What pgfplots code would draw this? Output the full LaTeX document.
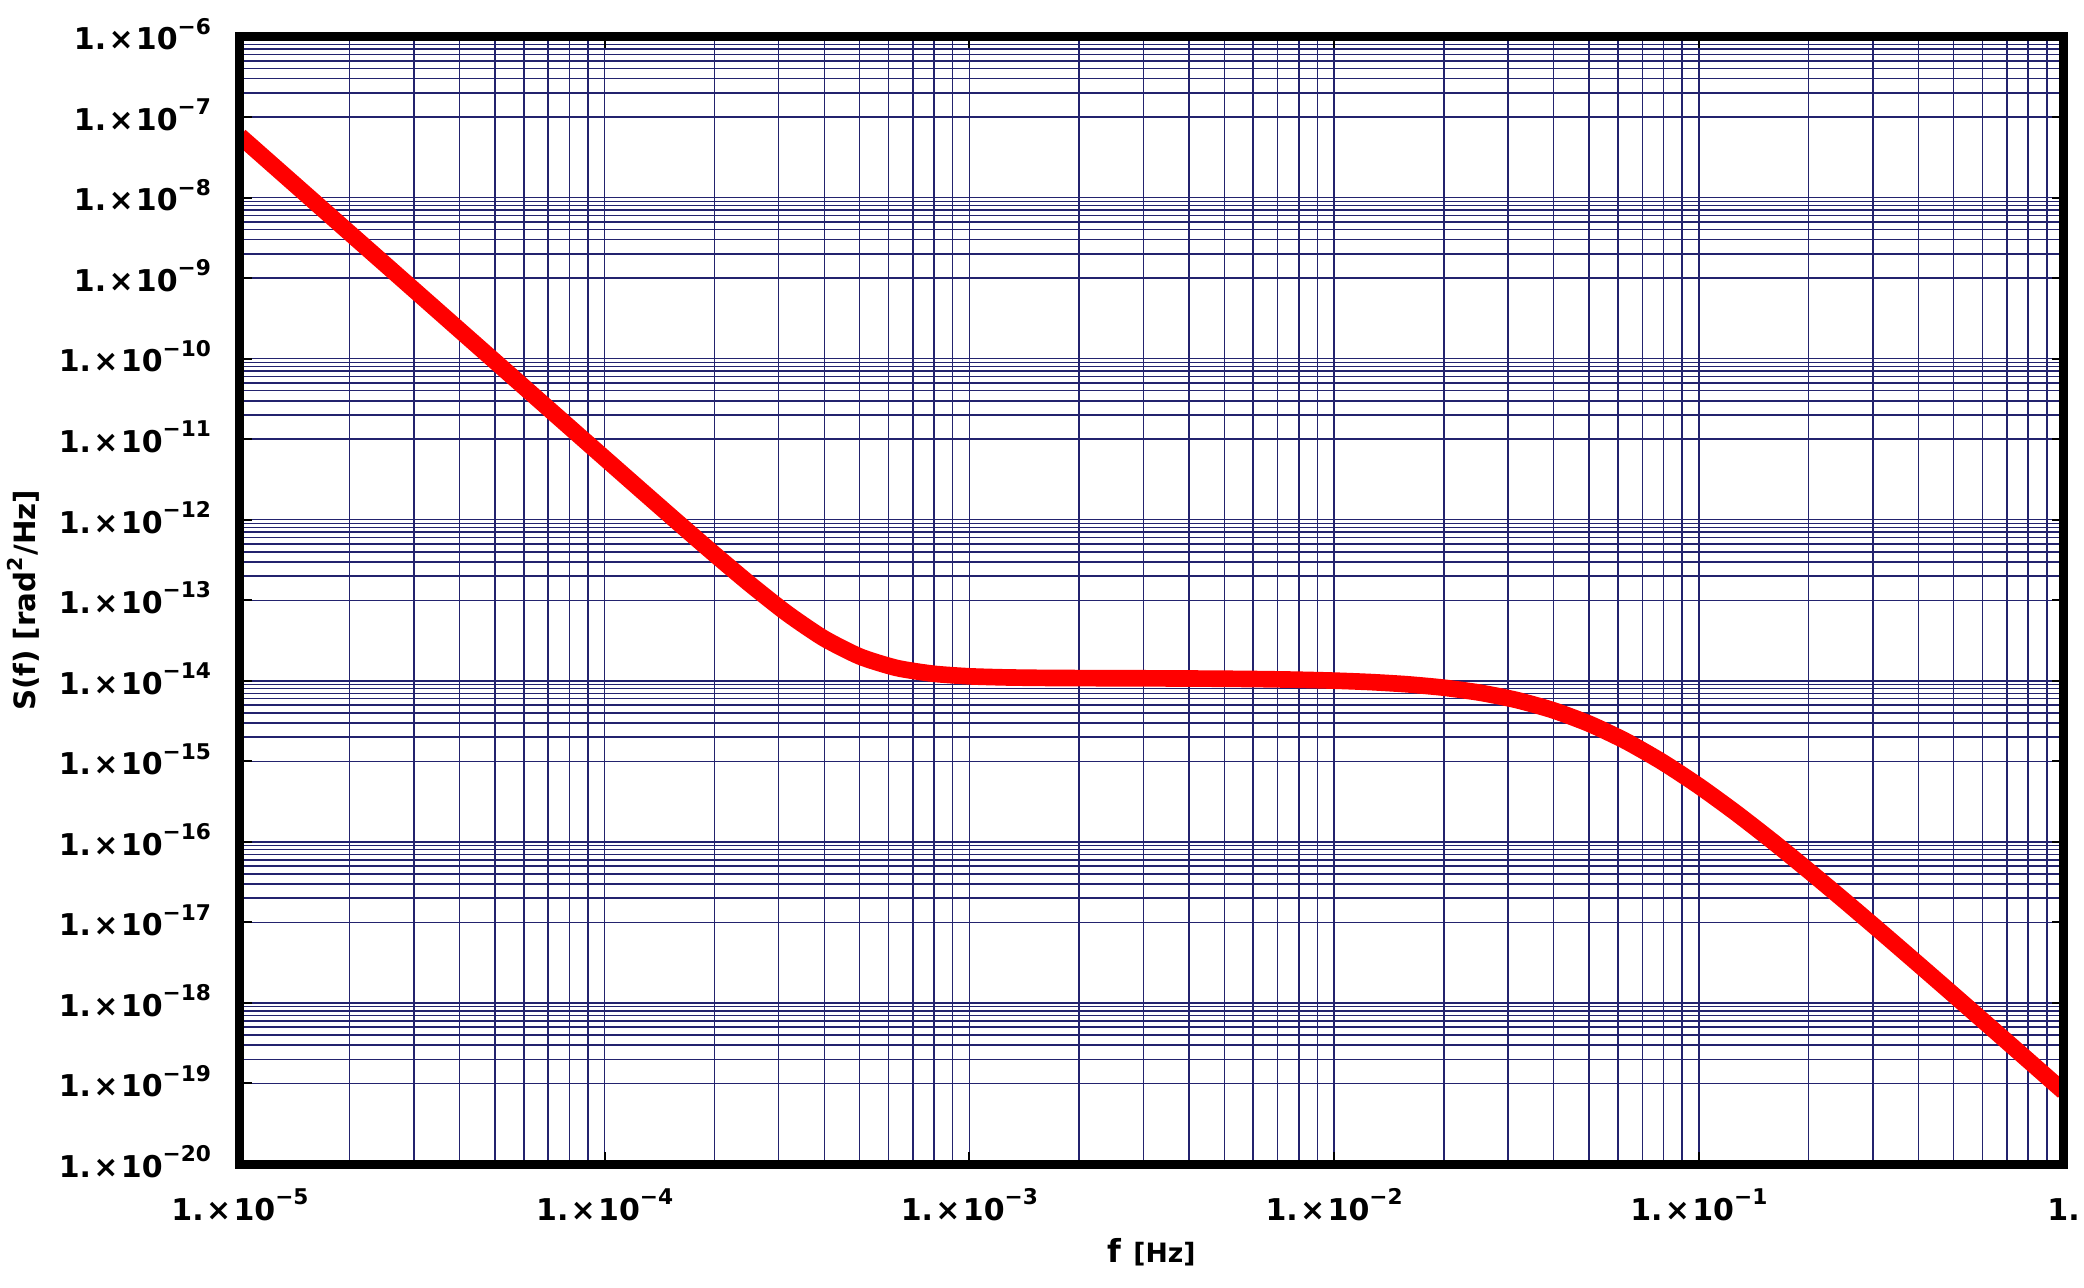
\documentclass[border=0pt]{standalone}
\usepackage{fontspec}
\setmainfont{DejaVu Sans}
\usepackage{pgfplots}
\pgfplotsset{compat=1.18}
\definecolor{gridnavy}{RGB}{35,35,110}
% tick label 1.x10^-n as in the reference
\newcommand{\tl}[1]{1.\kern0.7pt×\kern0.7pt10\raisebox{4.7pt}{\fontsize{6.5}{6.5}\selectfont −#1}}

\begin{document}
\begin{tikzpicture}
\begin{axis}[
  xmode=log, ymode=log,
  width=547.05pt, height=338.25pt, scale only axis,
  xmin=1e-5, xmax=1, ymin=1e-20, ymax=1e-6,
  xtick={1e-5,1e-4,1e-3,1e-2,1e-1,1},
  xticklabels={\tl{5},\tl{4},\tl{3},\tl{2},\tl{1},1.},
  ytick={1e-20,1e-19,1e-18,1e-17,1e-16,1e-15,1e-14,1e-13,1e-12,1e-11,1e-10,1e-9,1e-8,1e-7,1e-6},
  yticklabels={\tl{20},\tl{19},\tl{18},\tl{17},\tl{16},\tl{15},\tl{14},\tl{13},\tl{12},\tl{11},\tl{10},\tl{9},\tl{8},\tl{7},\tl{6}},
  minor xtick={2e-5,3e-5,4e-5,5e-5,6e-5,7e-5,8e-5,9e-5,
    2e-4,3e-4,4e-4,5e-4,6e-4,7e-4,8e-4,9e-4,
    2e-3,3e-3,4e-3,5e-3,6e-3,7e-3,8e-3,9e-3,
    2e-2,3e-2,4e-2,5e-2,6e-2,7e-2,8e-2,9e-2,
    2e-1,3e-1,4e-1,5e-1,6e-1,7e-1,8e-1,9e-1},
  % minor grid only in every other decade, as drawn in the reference
  minor ytick={2e-7,3e-7,4e-7,5e-7,6e-7,7e-7,8e-7,9e-7,
    2e-9,3e-9,4e-9,5e-9,6e-9,7e-9,8e-9,9e-9,
    2e-11,3e-11,4e-11,5e-11,6e-11,7e-11,8e-11,9e-11,
    2e-13,3e-13,4e-13,5e-13,6e-13,7e-13,8e-13,9e-13,
    2e-15,3e-15,4e-15,5e-15,6e-15,7e-15,8e-15,9e-15,
    2e-17,3e-17,4e-17,5e-17,6e-17,7e-17,8e-17,9e-17,
    2e-19,3e-19,4e-19,5e-19,6e-19,7e-19,8e-19,9e-19},
  xmajorgrids, ymajorgrids, xminorgrids, yminorgrids,
  major grid style={gridnavy, line width=0.45pt},
  minor grid style={gridnavy, line width=0.45pt},
  major tick length=3.5pt, minor tick length=0pt,
  tick style={black, line width=0.6pt},
  tick align=inside,
  axis line style={draw=none},
  clip mode=individual,
  ticklabel style={font=\fontsize{9}{10}\selectfont\bfseries},
  xticklabel style={anchor=base, inner sep=0pt, yshift=-16.8pt},
  yticklabel style={anchor=base east, inner sep=0pt, xshift=-8.5pt, yshift=-4pt},
]
\addplot[red, line width=5pt, line join=round, smooth, tension=0.4, no marks] coordinates {
  (1e-5,5.80e-8) (1.2589e-5,2.309e-8) (1.5849e-5,9.19e-9) (1.9953e-5,3.66e-9)
  (2.5119e-5,1.457e-9) (3.1623e-5,5.80e-10) (3.9811e-5,2.309e-10) (5.0119e-5,9.19e-11)
  (6.3096e-5,3.66e-11) (7.9433e-5,1.458e-11) (1e-4,5.81e-12) (1.2589e-4,2.320e-12)
  (1.5849e-4,9.30e-13) (1.9953e-4,3.77e-13) (2.5119e-4,1.565e-13) (3.1623e-4,6.88e-14)
  (3.9811e-4,3.39e-14) (5.0119e-4,2.00e-14) (6.3096e-4,1.446e-14) (7.9433e-4,1.226e-14)
  (1e-3,1.137e-14) (1.2589e-3,1.102e-14) (1.5849e-3,1.087e-14) (1.9953e-3,1.0805e-14)
  (2.5119e-3,1.0765e-14) (3.1623e-3,1.0727e-14) (3.9811e-3,1.0675e-14) (5.0119e-3,1.0604e-14)
  (6.3096e-3,1.0491e-14) (7.9433e-3,1.0317e-14) (1e-2,1.0049e-14) (1.2589e-2,9.645e-15)
  (1.5849e-2,9.054e-15) (1.9953e-2,8.222e-15) (2.5119e-2,7.121e-15) (3.1623e-2,5.779e-15)
  (3.9811e-2,4.317e-15) (5.0119e-2,2.924e-15) (6.3096e-2,1.783e-15) (7.9433e-2,9.824e-16)
  (1e-1,4.952e-16) (1.2589e-1,2.324e-16) (1.5849e-1,1.0343e-16) (1.9953e-1,4.432e-17)
  (2.5119e-1,1.851e-17) (3.1623e-1,7.599e-18) (3.9811e-1,3.085e-18) (5.0119e-1,1.2438e-18)
  (6.3096e-1,4.991e-19) (7.9433e-1,1.997e-19) (1,7.975e-20)
};
% heavy frame on top of the curve
\draw[black, line width=2.7pt] (rel axis cs:0,0) rectangle (rel axis cs:1,1);
% axis labels
\node[rotate=90, anchor=base, font=\fontsize{8.8}{10}\selectfont\bfseries]
  at (axis description cs:-0.1124,0.5) {S(f) [rad\textsuperscript{2}/Hz]};
\node[anchor=base, font=\bfseries]
  at (axis description cs:0.5,-0.0869) {{\fontsize{9.5}{10}\selectfont f} {\fontsize{8}{9}\selectfont [Hz]}};
\end{axis}
\pgfresetboundingbox
\path[use as bounding box] (-72pt,-36.9pt) rectangle (553.2pt,349.2pt);
\end{tikzpicture}
\end{document}
